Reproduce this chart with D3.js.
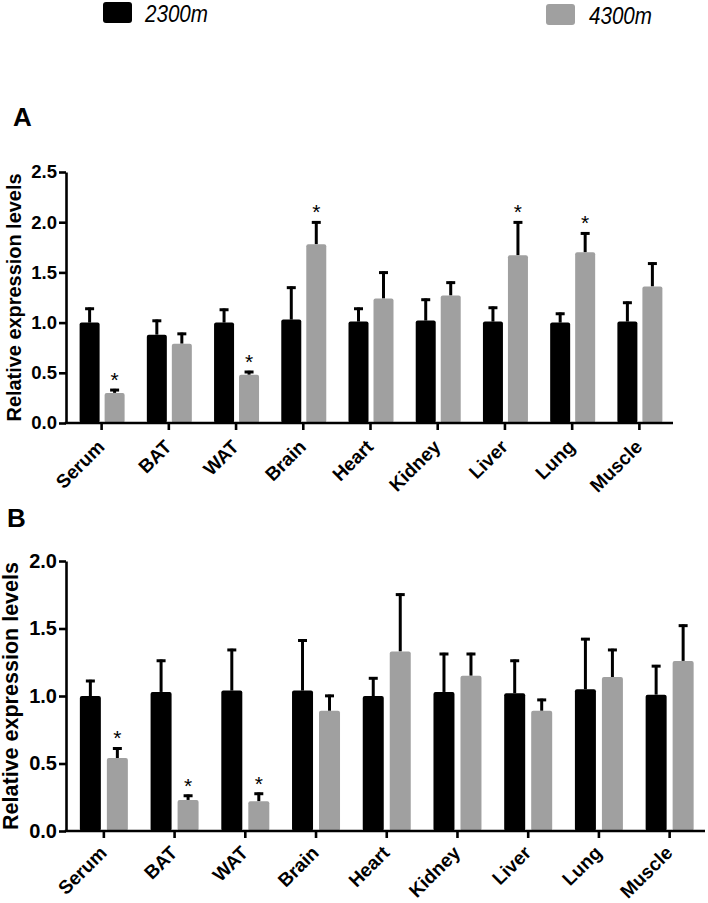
<!DOCTYPE html>
<html>
<head>
<meta charset="utf-8">
<script src="https://cdn.jsdelivr.net/npm/d3@7/dist/d3.min.js"></script>
<style>
  html, body { margin: 0; padding: 0; background: #fff; }
  svg { display: block; }
  text { font-family: "Liberation Sans", Arial, Helvetica, sans-serif; }
</style>
</head>
<body>
<svg id="chart" width="708" height="903"></svg>
<script>
// ---------- data ----------
const categories = ["Serum", "BAT", "WAT", "Brain", "Heart", "Kidney", "Liver", "Lung", "Muscle"];
const seriesNames = ["2300m", "4300m"];
const seriesColors = ["#000000", "#a0a0a0"];

// Panel A
const a2300 = [1.00, 0.88, 1.00, 1.03, 1.01, 1.02, 1.01, 1.00, 1.01];
const a2300Err = [0.15, 0.15, 0.14, 0.33, 0.14, 0.22, 0.15, 0.10, 0.20];
const a4300 = [0.30, 0.79, 0.48, 1.78, 1.24, 1.27, 1.67, 1.70, 1.36];
const a4300Err = [0.04, 0.11, 0.04, 0.23, 0.27, 0.14, 0.34, 0.20, 0.24];
const aSig = [true, false, true, true, false, false, true, true, false];
const aTicks = [0.0, 0.5, 1.0, 1.5, 2.0, 2.5];

// Panel B
const b2300 = [1.00, 1.03, 1.04, 1.04, 1.00, 1.03, 1.02, 1.05, 1.01];
const b2300Err = [0.12, 0.24, 0.31, 0.38, 0.14, 0.29, 0.25, 0.38, 0.22];
const b4300 = [0.54, 0.23, 0.22, 0.89, 1.33, 1.15, 0.89, 1.14, 1.26];
const b4300Err = [0.08, 0.04, 0.065, 0.12, 0.43, 0.17, 0.09, 0.21, 0.27];
const bSig = [true, true, true, false, false, false, false, false, false];
const bTicks = [0.0, 0.5, 1.0, 1.5, 2.0];

const yLabel = "Relative expression levels";

// ---------- drawing ----------
const svg = d3.select("#chart");

// Legend
const legend = [
  { name: seriesNames[0], color: seriesColors[0], rx: 103, ry: 2, tx: 145 },
  { name: seriesNames[1], color: seriesColors[1], rx: 546, ry: 4, tx: 589 }
];
legend.forEach(l => {
  svg.append("rect").attr("x", l.rx).attr("y", l.ry).attr("width", 29).attr("height", 21)
    .attr("rx", 3).attr("fill", l.color);
  svg.append("text").attr("x", l.tx).attr("y", l.ry + 20)
    .attr("font-size", 24).attr("font-style", "italic")
    .attr("textLength", 63).attr("lengthAdjust", "spacingAndGlyphs")
    .attr("fill", "#000").text(l.name);
});

function panel(opts) {
  const g = svg.append("g");
  const y = d3.scaleLinear().domain([0, opts.yMax]).range([opts.y0, opts.y1]);
  const x = d3.scaleBand().domain(categories).range([opts.xStart, opts.xEnd]);

  // panel letter
  g.append("text").attr("x", opts.letterX).attr("y", opts.letterY)
    .attr("font-size", 26).attr("font-weight", "bold").text(opts.letter);

  // y axis label
  const cy = (opts.y0 + opts.y1) / 2;
  g.append("text")
    .attr("transform", `translate(${opts.labelX},${cy}) rotate(-90)`)
    .attr("text-anchor", "middle")
    .attr("font-size", opts.labelSize).attr("font-weight", "bold")
    .attr("textLength", opts.labelLen).attr("lengthAdjust", "spacingAndGlyphs")
    .text(yLabel);

  // bars
  const series = [
    { vals: opts.s1, errs: opts.e1, color: seriesColors[0], off: opts.off1 },
    { vals: opts.s2, errs: opts.e2, color: seriesColors[1], off: opts.off2 }
  ];
  const bw = opts.barW;
  series.forEach((s, si) => {
    const cx = i => x(categories[i]) + x.bandwidth() / 2 + s.off;
    categories.forEach((c, i) => {
      const xc = cx(i) + bw / 2;
      g.append("line")
        .attr("x1", xc).attr("x2", xc)
        .attr("y1", y(s.vals[i])).attr("y2", y(s.vals[i] + s.errs[i]))
        .attr("stroke", "#000").attr("stroke-width", 3);
      g.append("line")
        .attr("x1", xc - 4.5).attr("x2", xc + 4.5)
        .attr("y1", y(s.vals[i] + s.errs[i]) + 1.2).attr("y2", y(s.vals[i] + s.errs[i]) + 1.2)
        .attr("stroke", "#000").attr("stroke-width", 3);
    });
    g.selectAll(null).data(s.vals).join("rect")
      .attr("x", (d, i) => cx(i))
      .attr("y", d => y(d))
      .attr("width", bw)
      .attr("height", d => opts.y0 - y(d))
      .attr("rx", 2)
      .attr("fill", s.color);
  });

  // significance stars
  categories.forEach((c, i) => {
    if (!opts.sig[i]) return;
    const xc = x(c) + x.bandwidth() / 2 + opts.off2 + bw / 2;
    g.append("text").attr("x", xc).attr("y", y(opts.s2[i] + opts.e2[i]) - 2)
      .attr("text-anchor", "middle").attr("font-size", 21).text("*");
  });

  // y axis
  const ya = g.append("g").attr("transform", `translate(${opts.axisX},0)`)
    .call(d3.axisLeft(y).tickValues(opts.ticks).tickFormat(d3.format(".1f"))
      .tickSize(7).tickSizeOuter(0).tickPadding(2));
  ya.select(".domain").attr("stroke-width", 2.6).attr("stroke", "#000");
  ya.selectAll(".tick line").attr("stroke-width", 2.6).attr("stroke", "#000");
  ya.selectAll(".tick text").attr("font-size", opts.tickSize).attr("font-weight", "bold")
    .attr("fill", "#000").attr("font-family", "'Liberation Sans', Arial, sans-serif");

  // x axis
  const xa = g.append("g").attr("transform", `translate(0,${opts.y0})`)
    .call(d3.axisBottom(x).tickSize(7).tickSizeOuter(0).tickPadding(0));
  xa.select(".domain").remove();
  xa.selectAll(".tick line").attr("stroke-width", 2.6).attr("stroke", "#000");
  xa.selectAll(".tick text")
    .attr("font-size", opts.xTickSize).attr("font-weight", "bold").attr("fill", "#000")
    .attr("font-family", "'Liberation Sans', Arial, sans-serif")
    .attr("text-anchor", "end").attr("dy", null).attr("y", null)
    .attr("transform", `translate(${opts.lblDx},${opts.lblDy}) rotate(-45)`);
  g.append("line").attr("x1", opts.axisX - 1.3).attr("x2", opts.xEnd)
    .attr("y1", opts.y0).attr("y2", opts.y0)
    .attr("stroke", "#000").attr("stroke-width", 2.6);
}

panel({
  letter: "A", letterX: 13, letterY: 126,
  yMax: 2.5, y0: 423, y1: 172, ticks: aTicks,
  axisX: 66, xStart: 68, xEnd: 673,
  s1: a2300, e1: a2300Err, s2: a4300, e2: a4300Err, sig: aSig,
  off1: -22, off2: 3, barW: 20,
  labelX: 21, labelSize: 20, labelLen: 248,
  tickSize: 18.5, xTickSize: 19, lblDx: 4, lblDy: 25
});

panel({
  letter: "B", letterX: 7, letterY: 527,
  yMax: 2.0, y0: 831, y1: 561, ticks: bTicks,
  axisX: 66, xStart: 68.5, xEnd: 705,
  s1: b2300, e1: b2300Err, s2: b4300, e2: b4300Err, sig: bSig,
  off1: -24, off2: 3, barW: 21,
  labelX: 18, labelSize: 21.5, labelLen: 268,
  tickSize: 20, xTickSize: 19, lblDx: 4, lblDy: 23
});
</script>
</body>
</html>
